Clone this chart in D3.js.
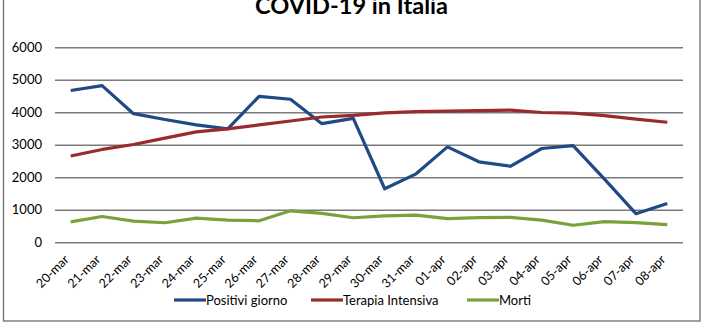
<!DOCTYPE html>
<html><head><meta charset="utf-8">
<script src="https://cdn.jsdelivr.net/npm/d3@7"></script>
<style>
html,body{margin:0;padding:0;background:#fff;}
svg{display:block;font-family:Lato,"Open Sans",sans-serif;}
</style></head>
<body>
<svg id="chart" width="702" height="336"></svg>
<script>
const categories = ["20-mar","21-mar","22-mar","23-mar","24-mar","25-mar","26-mar","27-mar","28-mar","29-mar","30-mar","31-mar","01-apr","02-apr","03-apr","04-apr","05-apr","06-apr","07-apr","08-apr"];
const positiviGiorno = [4670,4821,3957,3780,3612,3491,4492,4401,3651,3815,1648,2107,2937,2477,2339,2886,2972,1941,880,1195];
const terapiaIntensiva = [2655,2857,3009,3204,3396,3489,3612,3732,3856,3906,3981,4023,4035,4053,4068,3994,3977,3898,3792,3693];
const morti = [627,793,651,601,743,683,662,969,889,756,812,837,727,760,766,681,525,636,604,542];
const yTicks = [0,1000,2000,3000,4000,5000,6000];
const seriesNames = ["Positivi giorno","Terapia Intensiva","Morti"];
const seriesColors = ["#1f4a86","#9a2a2c","#79a33a"];

const svg = d3.select("#chart");
// outer border
svg.append("rect").attr("x",3.5).attr("y",-10).attr("width",696.5).attr("height",331)
  .attr("fill","none").attr("stroke","#6e6e6e").attr("stroke-width",1.3);

// title
svg.append("text").attr("x",351.5).attr("y",14).attr("text-anchor","middle")
  .attr("font-size",23).attr("font-weight","bold").attr("fill","#000")
  .attr("textLength",193).attr("lengthAdjust","spacingAndGlyphs")
  .text("COVID-19 in Italia");

const x = d3.scaleBand().domain(categories).range([55,683]).padding(0);
const y = d3.scaleLinear().domain([0,6000]).range([242.3,47.3]);

// gridlines
const yAxis = d3.axisLeft(y).tickValues(yTicks).tickSize(-628).tickPadding(13).tickFormat(d3.format("d"));
const gy = svg.append("g").attr("transform","translate(55,0)").call(yAxis);
gy.select(".domain").remove();
gy.selectAll(".tick line").attr("stroke","#7a7a7a").attr("stroke-width",1.6);
gy.selectAll(".tick text").attr("font-size",13).attr("fill","#000").attr("font-family","Lato,sans-serif");

// x axis labels
const xAxis = d3.axisBottom(x).tickSize(0).tickPadding(0);
const gx = svg.append("g").attr("transform","translate(0,242.3)").call(xAxis);
gx.select(".domain").remove();
gx.selectAll(".tick text")
  .attr("font-size",12.5).attr("fill","#000").attr("font-family","Lato,sans-serif")
  .attr("text-anchor","end").attr("dy","0")
  .attr("transform","translate(-1,18) rotate(-45)");

const seriesData = [positiviGiorno, terapiaIntensiva, morti];
const line = d3.line().x((d,i)=>x(categories[i])+x.bandwidth()/2).y(d=>y(d));
seriesData.forEach((vals,k)=>{
  svg.append("path").datum(vals).attr("d",line)
    .attr("fill","none").attr("stroke",seriesColors[k]).attr("stroke-width",3.2)
    .attr("stroke-linejoin","round");
});

// legend
const legendX = [174, 311, 467];
const lg = svg.append("g");
seriesNames.forEach((n,k)=>{
  const g = lg.append("g").attr("transform",`translate(${legendX[k]},300)`);
  g.append("line").attr("x1",0).attr("x2",32).attr("y1",0).attr("y2",0)
    .attr("stroke",seriesColors[k]).attr("stroke-width",3.2);
  g.append("text").attr("x",32).attr("y",4.5).attr("font-size",13).attr("fill","#000")
    .text(n);
});
</script>
</body></html>
